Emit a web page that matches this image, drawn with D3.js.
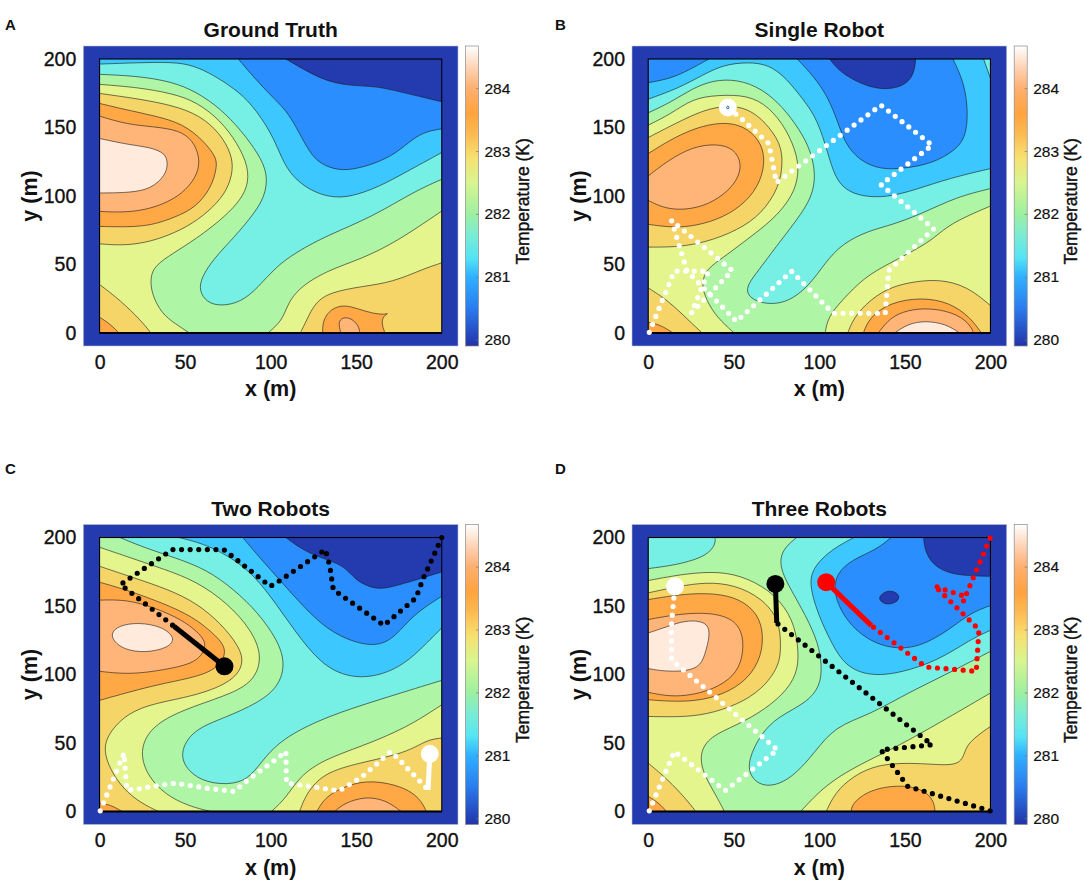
<!DOCTYPE html>
<html>
<head>
<meta charset="utf-8">
<script src="https://cdn.jsdelivr.net/npm/d3@7"></script>
<style>
  body { margin: 0; background: #fff; }
  text { font-family: "Liberation Sans", Arial, sans-serif; fill: #111; }
</style>
</head>
<body>
<div id="chart"></div>
<script>
// band colours of the filled contours, coolest first
const bandColors = ['#243aaf', '#2b8eff', '#3cc8ff', '#76efe4', '#aef5a6', '#e3f58c', '#f6d568', '#ffa845', '#ffb578', '#ffeadb'];

const xTicks = [0, 50, 100, 150, 200];
const yTicks = [0, 50, 100, 150, 200];
const tempTicks = [280, 281, 282, 283, 284];
const barTemps = [279.9, 280.5, 281, 281.3, 281.7, 282, 282.5, 282.9, 283.3, 283.6, 284, 284.3, 284.67];
const barColors = ['#2233a8', '#2b7cee', '#30b0ff', '#55e4f5', '#7eecd0', '#9df0a0', '#d8f590', '#f7e070', '#fdb850', '#ffa33f', '#ffb070', '#ffd0b0', '#ffffff'];

const titles = ['Ground Truth', 'Single Robot', 'Two Robots', 'Three Robots'];
const letters = ['A', 'B', 'C', 'D'];
const baseBands = [0, 2, 0, 4];

// contours, painted in order: [band, points in metres, corners to close over]
// 'loop' means a closed island
const contoursA = [
  [1, [[108.9,200],[118.9,192.7],[131,184.6],[145,180.5],[161.2,180.2],[173.2,176.8],[200,168.8]], [[200,0],[0,0],[0,200]]],
  [2, [[81.1,200],[90.7,185.9],[100.8,172.5],[108.9,162.7],[114.9,150.5],[120.9,135.9],[127,124.9],[137,119.3],[147,118.8],[161.2,123.7],[173.2,131],[183.3,142],[191.3,147.3],[200,149]], [[200,0],[0,0],[0,200]]],
  [3, [[0,196.3],[22.3,197.3],[42.5,197.8],[54.5,195.6],[66.6,188.3],[78.7,178.5],[88.7,167.6],[100.8,145.6],[106.8,126.1],[112.9,113.9],[122.9,104.1],[135,98.8],[147,99.3],[163.2,106.6],[179.3,117.6],[200,131.7]], [[200,0],[0,0]]],
  [4, [[0,188.8],[22.3,187.6],[42.5,183.4],[56.5,176.1],[70.6,163.9],[82.7,148],[92.8,130.9],[98.4,116.3],[96.8,99.3],[88.7,84.6],[78.7,70],[66.6,54.1],[59.6,40.7],[58.1,30.9],[62.6,22.4],[70.6,19.5],[82.7,22.4],[92.8,33.4],[102.8,48],[114.9,59],[133,71.2],[159.2,84.6],[183.3,102.9],[200,112.2]], [[200,0],[0,0]]],
  [5, [[0,181.5],[22.3,179.3],[42.5,174.9],[56.5,168.8],[70.6,155.4],[80.7,138.3],[87.1,121.2],[86.7,106.6],[80.7,94.4],[70.6,82.2],[56.5,68.8],[42.5,57.8],[32.4,49.3],[29.6,40.7],[30.4,28.5],[36.4,13.9],[44.5,6.6],[52.5,0]], [[0,0]]],
  [5, [[98.4,0],[106.8,9],[109.9,21.2],[116.9,33.4],[133,45.6],[153.1,54.1],[173.2,66.3],[200,89]], [[200,0]]],
  [6, [[0,174.9],[22.3,171],[42.5,166.3],[58.6,159],[70.6,145.6],[77,130.9],[78.2,118.8],[74.6,104.1],[66.6,91.9],[54.5,79.7],[40.5,71.2],[26.4,65.6],[12.3,63.9],[0,65.1]], []],
  [6, [[0,35.4],[12.3,23.7],[24.3,9],[30,0]], [[0,0]]],
  [6, [[117.3,0],[120.9,9],[126,22.4],[135,29.8],[153,33.9],[171.2,37],[189.3,46.8],[200,51.2]], [[200,0]]],
  [7, [[0,167.6],[16.3,162.7],[32.4,158.5],[48.5,152.9],[60.5,140.7],[68.2,128.5],[68.6,121.2],[65.6,106.6],[56.5,91.9],[44.5,84.6],[30.4,78.5],[16.3,77.3],[0,77.8]], []],
  [7, [[0,11.5],[6.2,6.6],[11.3,0]], [[0,0]]],
  [7, [[130.4,0],[130.4,9],[135,17.6],[143,20.7],[151.1,17.6],[159.2,14.4],[166.2,13.4],[169.2,14.6],[166.2,12.7],[164.6,7.8],[166.8,0]], []],
  [8, [[0,158.3],[16.3,152.2],[32.4,150.5],[46.5,148],[54.5,140.7],[58.6,128.5],[57.6,116.3],[50.5,104.1],[40.5,95.6],[26.4,89.5],[12.3,88],[0,88.8]], []],
  [8, [[141,0],[139.4,7.8],[142,11.5],[147,11],[151.5,5.4],[152.1,0]], []],
  [9, [[0,142],[16.3,137.6],[30.4,135.4],[38.5,131],[40,123.7],[38.5,115.1],[30.4,105.4],[18.3,102.4],[0,102.2]], []]
];

const contoursB = [
  [1, [[0,182.7],[13.6,185.9],[23.8,192],[35.5,200]], [[0,200]]],
  [1, [[87.1,200],[96.9,187],[105,172.5],[111.1,153],[115.1,138.3],[123.2,126.1],[135.4,119.3],[149.6,120],[165.9,123.7],[180.1,133.5],[186.6,145.6],[186.6,170],[183.1,187],[178.1,200]], []],
  [0, [[106,200],[111,192],[119.4,184.9],[129.5,179.5],[139.6,177.6],[149.8,180.5],[155.3,188.5],[156.3,200]], []],
  [3, [[0,170.7],[17.9,178.8],[32,188.5],[44.2,195.9],[58.4,197.8],[70.6,195.9],[80.6,186.1],[90.8,170.2],[99,155.6],[105,131.2],[109,114.1],[115.1,104.4],[125.3,99.5],[139.6,99],[155.8,104.4],[176.1,113],[200,120]], [[200,0],[0,0]]],
  [3, [[196,200],[200,186]], [[200,200]]],
  [4, [[0,160.7],[13.6,168.7],[25.8,178.5],[38,184.6],[52.2,185.1],[66.4,178.5],[78.6,165.1],[88.7,148],[94.8,133.4],[97.9,116.3],[95.9,99.3],[86.7,82.2],[74.5,62.7],[64.4,45.6],[58.3,35.9],[57.3,28.5],[63.4,22.4],[74.5,20.7],[84.7,24.9],[94.8,35.9],[103,50.5],[113,65.1],[129.3,74.9],[141.5,78.5],[159.8,87],[180.1,99.3],[200,105.4]], [[200,0],[0,0]]],
  [5, [[0,151.7],[13.6,160.2],[25.8,171],[40,173.7],[58.3,173.7],[70.6,165.1],[80.6,149.3],[87.7,128.5],[87.7,111.5],[82.6,96.8],[72.4,82.2],[58.3,68.8],[44.2,55.4],[34,46.8],[30.9,35.9],[34,23.7],[40,11.5],[50.2,0]], [[0,0]]],
  [5, [[103.4,0],[105,11.5],[113.1,23.7],[126.3,40.7],[140.5,50.5],[151.7,57.8],[165.9,67.6],[176,79.8],[200,92.7]], [[200,0]]],
  [6, [[0,142.7],[15.8,152.9],[32,162.7],[46.1,166.3],[58.3,163.9],[68.4,154.1],[77.6,138.3],[78.6,123.7],[76.6,106.6],[66.4,87],[52.2,74.9],[33.9,66.3],[17.7,62.7],[0,62.7]], []],
  [6, [[0,32.9],[11.6,23.7],[23.8,9],[31.5,0]], [[0,0]]],
  [6, [[116.6,0],[120.2,11.5],[129.3,23.7],[139.5,32.2],[152,37],[170,39.5],[186.6,34],[200,20]], [[200,0]]],
  [7, [[0,131],[15.6,143.2],[31.9,151.7],[47.1,154.1],[58.3,149.3],[66.4,138.3],[68.4,123.7],[64.4,106.6],[54.2,92],[40,82.2],[23.8,77.3],[11.6,77.3],[0,79.3]], []],
  [7, [[125.7,0],[129.3,11.5],[141.5,22.4],[159.8,26],[176,22.4],[188.2,11.5],[194.7,0]], []],
  [7, [[0,7.8],[7,6],[14.6,0]], [[0,0]]],
  [8, [[0,114.6],[11.6,126],[25.8,135.9],[40,138.3],[50.2,134.6],[54.8,123.7],[52.2,111.5],[44,100.5],[31.9,92],[17.7,89.5],[7.5,92],[0,96.8]], []],
  [8, [[134.4,0],[141.5,11.5],[151.7,16.8],[163.9,18.3],[178.1,15.1],[187.2,7.8],[190.3,0]], []],
  [9, [[144,0],[151.7,6.6],[161.8,9],[174,6.6],[182,0]], []]
];

const contoursC = [
  [1, [[108.9,200],[116.9,192.5],[127,186],[143,180],[149,169],[161.2,161.5],[173.2,164.4],[200,174.9]], [[200,0],[0,0],[0,200]]],
  [2, [[83.7,200],[92.8,186.4],[106.8,166.9],[118.9,149.8],[133,132.7],[149.1,123],[163.2,120.6],[173.2,127.9],[183.3,143.7],[200,157.1]], [[200,0],[0,0],[0,200]]],
  [3, [[46.5,200],[62.6,194.9],[78.7,184],[90.7,171.8],[102.8,152.3],[114.9,130.3],[129,108.4],[143,98.7],[159.2,97.4],[177.3,106],[191.3,123],[200,134]], [[200,0],[0,0],[0,200]]],
  [4, [[11.9,200],[26.4,192.5],[44.5,185.1],[62.6,176.6],[78.7,162],[92.8,144.9],[103.9,125.4],[108.6,108.4],[104.9,91.4],[92.8,79.2],[72.6,68.2],[54.5,59.7],[46.5,42.6],[51.5,29.2],[62.6,20.7],[78.7,19.5],[88.7,25.6],[96.8,40.2],[108.9,54.8],[133,69.4],[163.2,81.6],[200,95.7]], [[200,0],[0,0],[0,200]]],
  [5, [[0,192.9],[18.3,185.1],[38.4,176.6],[56.5,168.1],[74.6,152.3],[88.7,132.8],[95.2,113.3],[90.7,96.3],[78.7,86.6],[54.5,76.7],[36.4,67],[26.4,54.8],[24,40.2],[28.4,25.6],[38.4,12.2],[52.5,3.7],[65,0]], [[0,0]]],
  [5, [[100.4,0],[108.9,9.7],[116.9,25.6],[130.9,37.8],[153,47.5],[179.2,60.9],[200,77.9]], [[200,0]]],
  [6, [[0,179],[20.3,170.5],[40.4,162],[56.5,152.3],[70.6,137.7],[81.7,120.6],[84.7,107.2],[76.7,93.8],[54.5,84],[32.4,79.2],[16.3,71.9],[5.2,57.2],[2.2,45],[6.2,30.4],[14.3,15.8],[24.3,6.1],[34.4,0]], [[0,0]]],
  [6, [[116.9,0],[120.9,13.4],[130.9,28],[151.1,35.3],[179.2,42.6],[191.3,52.4],[200,53.6]], [[200,0]]],
  [7, [[0,167.4],[18.3,160.8],[36.4,152.3],[54.5,142.5],[68.6,127.9],[74.6,118.2],[70.6,106],[58.6,98.7],[38.4,93.8],[22.3,88.9],[8.2,84],[0,81.1]], []],
  [7, [[0,6],[6.2,5],[13.3,0]], [[0,0]]],
  [7, [[127,0],[132,11],[145.1,19.5],[159.2,23],[177.3,18.3],[187.3,9.7],[191,0]], []],
  [8, [[0,154.3],[16.3,154.7],[32.4,148.6],[48.5,140],[60.5,127.9],[62.6,119.4],[56.5,108.4],[38.4,103.5],[18.3,99.9],[0,102.3]], []],
  [8, [[137.4,0],[143,6.1],[155.1,11],[167.2,8.5],[176.3,0]], []],
  [9, [[6.6,130.3],[11.3,135.7],[22.4,138.1],[36.4,135.2],[44.5,126.7],[40.4,119.4],[26.4,115.7],[14.3,118.2],[8.2,124.3]], 'loop']
];

const contoursD = [
  [3, [[0,177.3],[17.7,180.2],[33.9,186.3],[39.4,194.9],[39,200]], [[0,200]]],
  [5, [[0,168.6],[21.7,173.7],[42,175.4],[58.3,170.5],[74.5,158.3],[84.7,140],[87.7,120.6],[87.7,103.5],[81.6,88.9],[68.4,74.5],[52.2,63.3],[36,54.8],[29.9,42.6],[31.9,28],[40,11],[44.5,0]], [[0,0]]],
  [5, [[89.1,0],[98.9,13.4],[111.1,25.6],[129.3,37.8],[145.6,47.5],[170,64.6],[200,86.5]], [[200,0]]],
  [3, [[86.7,200],[78.2,191.2],[76.6,179],[82.2,164.4],[92.3,142.5],[99.4,123],[101.5,106],[100.5,91.4],[92.3,79.2],[76.1,69.4],[66,57.2],[58.3,37.8],[59.3,25.6],[66.4,18.3],[76.6,19.5],[86.7,28],[96.9,42.6],[109,62.1],[129.3,70.6],[151.7,86.5],[172,98.7],[200,116.9]], [[200,200]]],
  [2, [[120.2,200],[107,191.2],[96.9,179],[93.8,166.9],[98.9,144.9],[107,123],[115.1,106],[129.3,98.7],[147.6,101],[170,110.6],[188.2,125.5],[200,132.3]], [[200,200]]],
  [1, [[141.9,200],[133.4,191.2],[119.2,183.9],[110,174],[108,159.4],[115.1,140],[127.3,125.5],[143.6,118.1],[159.8,120.6],[176,132.7],[188.2,144.9],[200,150.3]], [[200,200]]],
  [0, [[160.9,200],[161.9,188.7],[168,177.8],[180.1,172.2],[200,171.7]], [[200,200]]],
  [0, [[134.4,155.9],[137.5,160],[141.5,161.3],[145.6,159.6],[147,155.9],[144.6,152.3],[139.6,151],[136.5,152.7]], 'loop'],
  [6, [[0,159.6],[17.7,164.4],[33.9,167.4],[50.2,165.6],[66.4,155.9],[76.6,140],[77.6,120.6],[76.6,106],[66.4,88.9],[52.2,78],[33.9,70.6],[17.7,68.9],[0,69.4]], []],
  [6, [[0,35.3],[11.6,23.1],[21.7,9.7],[27.8,0]], [[0,0]]],
  [6, [[104,0],[109,13.4],[119.2,25.6],[135.4,35.3],[159.8,35.3],[180.1,32.9],[184.6,40.2],[186.2,50],[200,62.1]], [[200,0]]],
  [7, [[0,154.7],[17.7,158.3],[33.9,159.6],[50.2,157.1],[62.3,147.4],[67.4,132.8],[66.4,113.3],[58.3,96.3],[44,85.3],[27.8,80.4],[11.6,80.4],[0,81.6]], []],
  [7, [[0,11],[6.5,6],[10.6,0]], [[0,0]]],
  [7, [[118.6,0],[119.2,6],[129.3,15.8],[145.6,19.5],[159.8,17],[166.9,8.5],[167.6,0]], []],
  [8, [[0,140.1],[17.7,144.2],[36,145.4],[50.2,140.6],[55.8,128.5],[55.2,111.5],[50.2,98.7],[38,88.9],[21.7,84],[9.5,84.5],[0,87]], []],
  [9, [[0,130.3],[11.6,135.2],[21.7,139.6],[33.9,138.9],[36.3,130.3],[33.9,118.1],[30.9,105.9],[21.7,102.3],[9.5,102.3],[0,104.3]], []]
];

// robot tracks: dotted part, then the solid last leg ending at the robot
const singleWhite = [[0.6,0.5],[15.2,45.1],[35.3,45.1],[25.2,14.6],[49.1,45.6],[13.6,82.2],[22.7,45.1],[51.6,8.5],[83.7,45.1],[108,14.4],[138.5,14.4],[140.5,45.6],[166.9,76.1],[136,108.3],[165.9,137.1],[136,166.3],[74.9,109.8],[70.5,138.3],[53.2,157.8],[46.5,164.6]];
const twoWhite = [[0.4,0.5],[14.3,42.6],[15.9,15.8],[20.7,16],[30.4,18.3],[44.5,20.7],[62.6,17],[78.7,14.6],[86.7,23],[102.8,37.8],[108.9,43.8],[109.3,20.7],[123,18.3],[140,15.1],[153,25],[163.2,36],[170.2,43.8],[175,38],[192,15.8]];
const twoWhiteEnd = [[192,15.8],[193,42.1]];
const twoBlack = [[200,200],[193.4,181.5],[189.3,170.5],[184.9,155.9],[166.2,135.9],[136.6,162],[134.6,179],[132,191.2],[104.8,168.1],[99.8,164.4],[72.6,191.2],[42.5,191.2],[12.3,165.7],[43.5,135.2]];
const twoBlackEnd = [[43.5,135.2],[73,106]];
const threeWhite = [[0.6,0.5],[15.2,43.8],[45,15.3],[75.5,45],[13.6,110.8],[13.6,137.6],[15.6,164.4]];
const threeBlack = [[199.8,0.5],[151.7,18.3],[136,45],[165.9,48.7],[75.1,137.6]];
const threeBlackEnd = [[75.1,137.6],[74.3,166.1]];
const threeRed = [[199.8,199.5],[190.3,171.7],[184.2,153.5],[185.2,157],[171,162.8],[167.3,164.9],[193.3,132.8],[191.7,102.3],[162.2,105.5],[130.4,135.7]];
const threeRedEnd = [[130.4,135.7],[104,167.4]];

const panels = [
  { left: 83.3, top: 46, contours: contoursA, tracks: [] },
  { left: 632, top: 46, contours: contoursB, tracks: [{ dots: singleWhite, end: null, color: '#fff' }] },
  { left: 83.3, top: 524.5, contours: contoursC, tracks: [
    { dots: twoWhite, end: twoWhiteEnd, color: '#fff' },
    { dots: twoBlack, end: twoBlackEnd, color: '#000' }] },
  { left: 632, top: 524.5, contours: contoursD, tracks: [
    { dots: threeWhite, end: null, color: '#fff', plain: true },
    { dots: threeBlack, end: threeBlackEnd, color: '#000' },
    { dots: threeRed, end: threeRedEnd, color: '#f00' }] }
];

const width = 1084;
const height = 883;
const plotWidth = 374.7;
const plotHeight = 300;
const markerRadius = 9;
const letterY = [30, 30, 474, 474];

const svg = d3.select('#chart')
  .append('svg')
  .attr('width', width)
  .attr('height', height);

const gradient = svg.append('defs')
  .append('linearGradient')
  .attr('id', 'temp-bar')
  .attr('x1', 0).attr('y1', 1).attr('x2', 0).attr('y2', 0);

gradient.selectAll('stop')
  .data(barTemps)
  .enter()
  .append('stop')
  .attr('offset', d => (d - 279.9) / (284.67 - 279.9))
  .attr('stop-color', (d, i) => barColors[i]);

panels.forEach((p, i) => {
  const x = d3.scaleLinear().domain([-9.5, 209.5]).range([p.left, p.left + plotWidth]);
  const y = d3.scaleLinear().domain([-9.5, 209.5]).range([p.top + plotHeight, p.top]);
  const curve = d3.line().x(d => x(d[0])).y(d => y(d[1])).curve(d3.curveBasis);
  const loop = d3.line().x(d => x(d[0])).y(d => y(d[1])).curve(d3.curveBasisClosed);
  const straight = d3.line().x(d => x(d[0])).y(d => y(d[1]));

  const g = svg.append('g');

  // padding round the field is the coldest band
  g.append('rect')
    .attr('x', p.left).attr('y', p.top)
    .attr('width', plotWidth).attr('height', plotHeight)
    .attr('fill', bandColors[0])
    .attr('stroke', '#b9c2d8')
    .attr('stroke-width', 0.6);

  svg.select('defs')
    .append('clipPath')
    .attr('id', 'field-' + i)
    .append('rect')
    .attr('x', x(0)).attr('y', y(200))
    .attr('width', x(200) - x(0)).attr('height', y(0) - y(200));

  const field = g.append('g').attr('clip-path', `url(#field-${i})`);

  field.append('rect')
    .attr('x', x(0)).attr('y', y(200))
    .attr('width', x(200) - x(0)).attr('height', y(0) - y(200))
    .attr('fill', bandColors[baseBands[i]]);

  p.contours.forEach(c => {
    const [band, pts, corners] = c;
    let fillPath, linePath;
    if (corners === 'loop') {
      fillPath = linePath = loop(pts);
    } else {
      linePath = curve(pts);
      fillPath = linePath + corners.map(k => `L${x(k[0])},${y(k[1])}`).join('') + 'Z';
    }
    field.append('path').attr('d', fillPath).attr('fill', bandColors[band]);
    field.append('path')
      .attr('d', linePath)
      .attr('fill', 'none')
      .attr('stroke', '#1a1a1a')
      .attr('stroke-width', 0.6);
  });

  // black frame of the field, heavier along the bottom
  g.append('rect')
    .attr('x', x(0)).attr('y', y(200))
    .attr('width', x(200) - x(0)).attr('height', y(0) - y(200))
    .attr('fill', 'none')
    .attr('stroke', '#000')
    .attr('stroke-width', 1.1);
  g.append('path')
    .attr('d', straight([[0, 0], [200, 0]]))
    .attr('stroke', '#000')
    .attr('stroke-width', 1.8);

  p.tracks.forEach(t => {
    g.append('path')
      .attr('d', straight(t.dots))
      .attr('fill', 'none')
      .attr('stroke', t.color)
      .attr('stroke-width', 5.2)
      .attr('stroke-linecap', 'round')
      .attr('stroke-linejoin', 'round')
      .attr('stroke-dasharray', '0 8.6');
    const last = t.end ? t.end[1] : t.dots[t.dots.length - 1];
    if (t.end) {
      g.append('path')
        .attr('d', straight(t.end))
        .attr('stroke', t.color)
        .attr('stroke-width', 5);
    }
    g.append('circle')
      .attr('cx', x(last[0])).attr('cy', y(last[1]))
      .attr('r', markerRadius)
      .attr('fill', t.color);
    if (!t.end && !t.plain) {
      g.append('circle')
        .attr('cx', x(last[0])).attr('cy', y(last[1]))
        .attr('r', 1.2)
        .attr('fill', '#fff')
        .attr('stroke', '#1668b8')
        .attr('stroke-width', 1);
    }
  });

  // axes
  const xAxis = g.append('g')
    .attr('transform', `translate(0,${p.top + plotHeight})`)
    .call(d3.axisBottom(x).tickValues(xTicks).tickSize(0).tickPadding(9));
  const yAxis = g.append('g')
    .attr('transform', `translate(${p.left},0)`)
    .call(d3.axisLeft(y).tickValues(yTicks).tickSize(0).tickPadding(7));
  [xAxis, yAxis].forEach(a => {
    a.select('.domain').remove();
    a.selectAll('text')
      .style('font-family', '"Liberation Sans", Arial, sans-serif')
      .style('font-size', '19.5px')
      .style('fill', '#111')
      .style('stroke', '#111')
      .style('stroke-width', 0.35);
  });

  g.append('text')
    .attr('x', x(100))
    .attr('y', p.top - 9)
    .attr('text-anchor', 'middle')
    .style('font-size', '21px')
    .style('font-weight', 'bold')
    .text(titles[i]);

  g.append('text')
    .attr('x', x(100))
    .attr('y', p.top + plotHeight + 50)
    .attr('text-anchor', 'middle')
    .style('font-size', '21.5px')
    .style('font-weight', 'bold')
    .text('x (m)');

  g.append('text')
    .attr('transform', `translate(${p.left - 46},${y(100)}) rotate(-90)`)
    .attr('text-anchor', 'middle')
    .style('font-size', '21.5px')
    .style('font-weight', 'bold')
    .text('y (m)');

  g.append('text')
    .attr('x', i % 2 === 0 ? 5 : 555)
    .attr('y', letterY[i])
    .style('font-size', '15px')
    .style('font-weight', 'bold')
    .text(letters[i]);

  // colour bar
  const barLeft = p.left + plotWidth + 7.5;
  const barWidth = 13;
  const t = d3.scaleLinear().domain([279.9, 284.67]).range([p.top + plotHeight, p.top]);

  g.append('rect')
    .attr('x', barLeft).attr('y', p.top)
    .attr('width', barWidth).attr('height', plotHeight)
    .attr('fill', 'url(#temp-bar)')
    .attr('stroke', '#8a8a8a')
    .attr('stroke-width', 0.7);

  const barAxis = g.append('g')
    .attr('transform', `translate(${barLeft + barWidth},0)`)
    .call(d3.axisRight(t).tickValues(tempTicks).tickSize(0).tickPadding(6).tickFormat(d3.format('d')));
  barAxis.select('.domain').remove();
  barAxis.selectAll('text')
    .style('font-family', '"Liberation Sans", Arial, sans-serif')
    .style('font-size', '15.5px')
    .style('fill', '#111')
    .style('stroke', '#111')
    .style('stroke-width', 0.2);
  barAxis.selectAll('.tick')
    .append('line')
    .attr('x1', -2.5).attr('x2', 0)
    .attr('stroke', '#777')
    .attr('stroke-width', 0.7);

  g.append('text')
    .attr('transform', `translate(${barLeft + barWidth + 50},${t(282.2)}) rotate(-90)`)
    .attr('text-anchor', 'middle')
    .style('font-size', '17.5px')
    .style('stroke', '#111')
    .style('stroke-width', 0.4)
    .text('Temperature (K)');
});
</script>
</body>
</html>
